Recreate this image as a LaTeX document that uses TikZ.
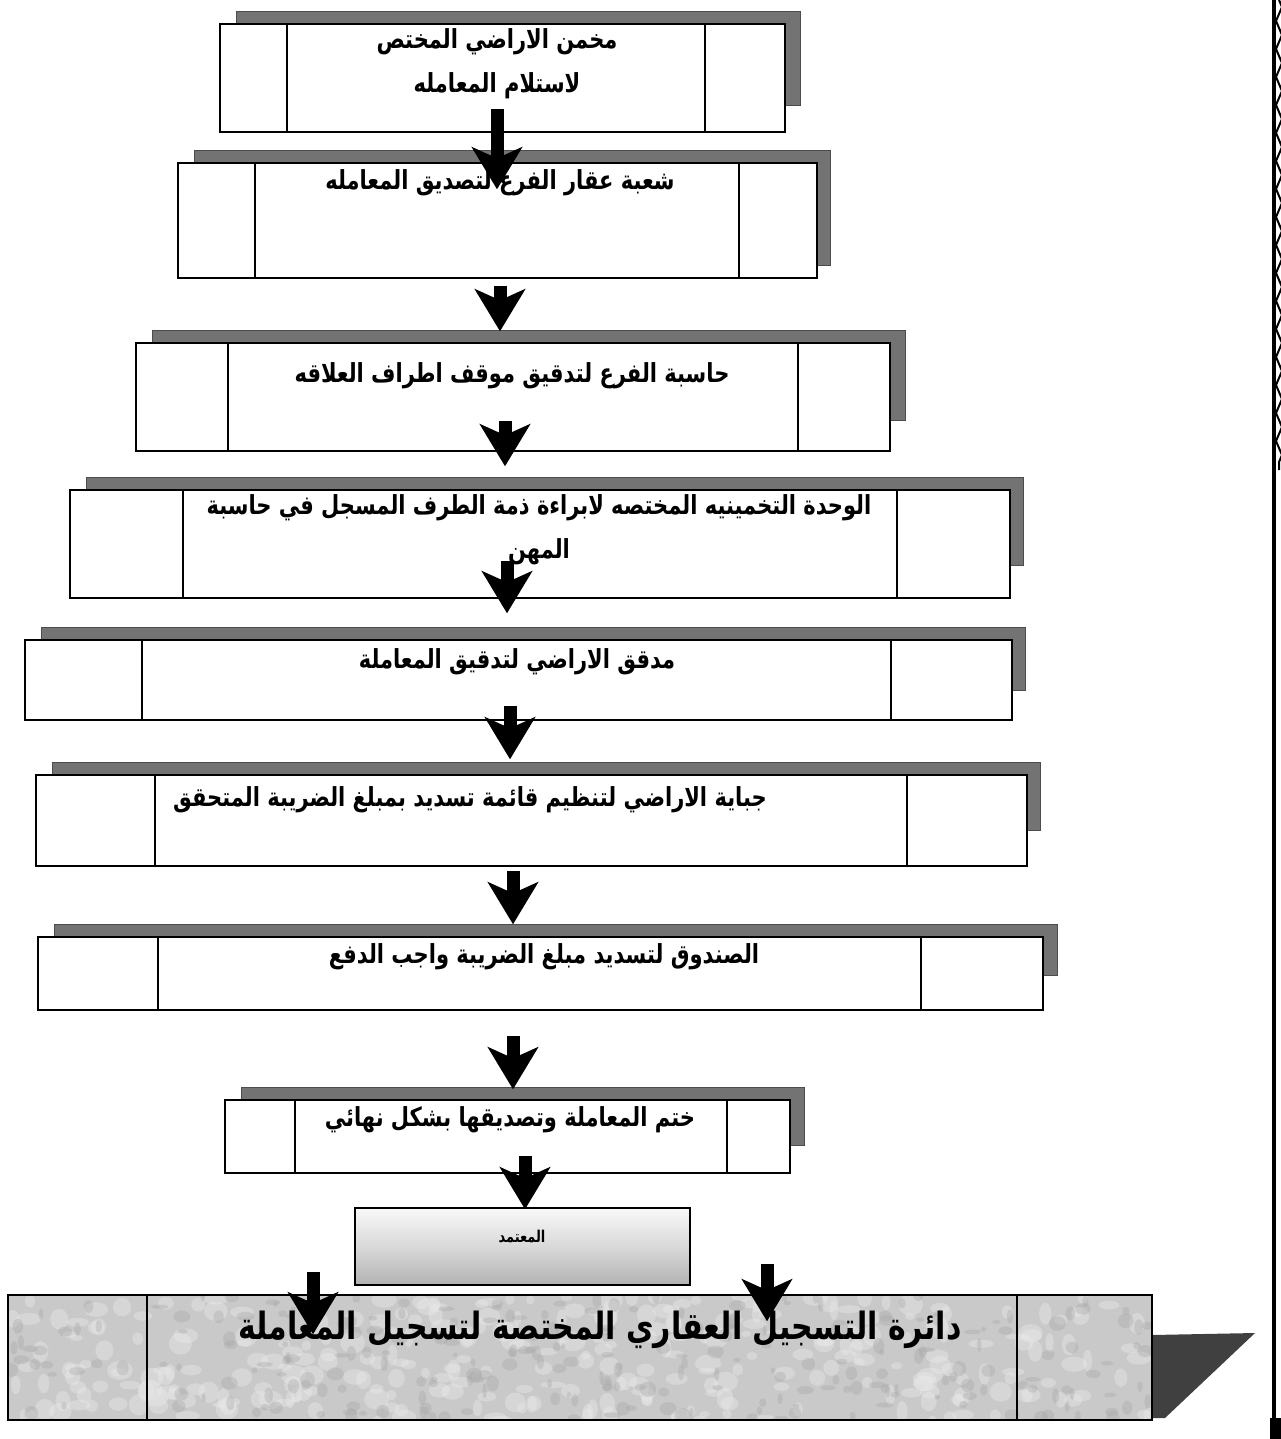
\documentclass[tikz,border=0pt]{standalone}
\usepackage{fontspec}
\usetikzlibrary{arrows.meta,calc,fit,decorations.pathmorphing}
\newfontfamily\arabicfont[Script=Arabic]{DejaVu Sans}
\TeXXeTstate=1
\newcommand\AR[1]{\scalebox{1}[1.25]{\beginR #1\endR}}
\tikzset{
  boxst/.style={draw=black, line width=1.4pt, fill=white, inner sep=0pt},
  divst/.style={draw=black, line width=1.1pt},
  shadowst/.style={fill=black!55, draw=black!70, line width=0.6pt},
  txt/.style={font=\arabicfont\bfseries\fontsize{21}{44}\selectfont, align=center, inner sep=1pt},
  bigarrow/.style={draw=black, line width=13pt, -{Stealth[length=42pt,width=50pt,inset=11pt]}},
}
\newcommand\flowstep[9]{%
  \fill[shadowst] (#2+16,#3-13) rectangle (#8,#9);
  \path (#2,#3) coordinate (#1-a) (#4,#5) coordinate (#1-b);
  \node[boxst, fit=(#1-a)(#1-b)] (#1) {};
  \draw[divst] (#6,#3) -- (#6,#5);
  \draw[divst] (#7,#3) -- (#7,#5);
}
\begin{document}
\begin{tikzpicture}[x=1pt,y=-1pt]
\useasboundingbox (0,0) rectangle (1281,1439);
\fill[white] (0,0) rectangle (1281,1439);

% boxes
\flowstep{b1}{220}{24}{785}{132}{287}{705}{800}{105}
\flowstep{b2}{178}{163}{817}{278}{255}{739}{830}{265}
\flowstep{b3}{136}{343}{890}{451}{228}{798}{905}{420}
\flowstep{b4}{70}{490}{1010}{598}{183}{897}{1023}{565}
\flowstep{b5}{25}{640}{1012}{720}{142}{891}{1025}{690}
\flowstep{b6}{36}{775}{1027}{866}{155}{907}{1040}{830}
\flowstep{b7}{38}{937}{1043}{1010}{158}{921}{1057}{975}
\flowstep{b8}{225}{1100}{790}{1173}{295}{727}{804}{1145}

% approved box with gradient
\path (355,1208) coordinate (b9-a) (690,1285) coordinate (b9-b);
\node[fit=(b9-a)(b9-b), inner sep=0pt, draw=black, line width=1.4pt,
      top color=gray!5, bottom color=gray!60, middle color=gray!30] (b9) {};

% final textured box
\fill[black!75] (1152,1335) -- (1255,1333) -- (1165,1418) -- (1152,1418) -- cycle;
\fill[gray!42] (8,1295) rectangle (1152,1420);
\begin{scope}
  \clip (8,1295) rectangle (1152,1420);
  \pgfmathsetseed{7}
  \foreach \i in {1,...,320}{
    \pgfmathsetmacro\rx{8+rnd*1144}
    \pgfmathsetmacro\ry{1295+rnd*125}
    \pgfmathsetmacro\rw{4+rnd*9}
    \pgfmathsetmacro\rh{3+rnd*8}
    \fill[gray!18, opacity=0.45] (\rx,\ry) ellipse ({\rw pt} and {\rh pt});
  }
  \foreach \i in {1,...,260}{
    \pgfmathsetmacro\rx{8+rnd*1144}
    \pgfmathsetmacro\ry{1295+rnd*125}
    \pgfmathsetmacro\rw{2+rnd*7}
    \pgfmathsetmacro\rh{2+rnd*6}
    \fill[gray!70, opacity=0.35] (\rx,\ry) ellipse ({\rw pt} and {\rh pt});
  }
\end{scope}
\path (8,1295) coordinate (b10-a) (1152,1420) coordinate (b10-b);
\node[fit=(b10-a)(b10-b), inner sep=0pt, draw=black, line width=1.4pt] (b10) {};
\draw[divst] (147,1295) -- (147,1420);
\draw[divst] (1017,1295) -- (1017,1420);

% texts
\node[txt] (t1) at (497,64) {\AR{مخمن الاراضي المختص}\\\AR{لاستلام المعامله}};
\node[txt] (t2) at (500,183) {\AR{شعبة عقار الفرع لتصديق المعامله}};
\node[txt] (t3) at (512,376) {\AR{حاسبة الفرع لتدقيق موقف اطراف العلاقه}};
\node[txt] (t4) at (539,530) {\AR{الوحدة التخمينيه المختصه لابراءة ذمة الطرف المسجل في حاسبة}\\\AR{المهن}};
\node[txt] (t5) at (517,662) {\AR{مدقق الاراضي لتدقيق المعاملة}};
\node[txt] (t6) at (470,800) {\AR{جباية الاراضي لتنظيم قائمة تسديد بمبلغ الضريبة المتحقق}};
\node[txt] (t7) at (544,957) {\AR{الصندوق لتسديد مبلغ الضريبة واجب الدفع}};
\node[txt] (t8) at (510,1120) {\AR{ختم المعاملة وتصديقها بشكل نهائي}};
\node[txt, font=\arabicfont\bfseries\fontsize{13}{16}\selectfont] (t9) at (522,1237) {\AR{المعتمد}};
\node[txt, font=\arabicfont\bfseries\fontsize{30}{36}\selectfont] (t10) at (600,1330) {\AR{دائرة التسجيل العقاري المختصة لتسجيل المعاملة}};

% arrows
\draw[bigarrow] ($(b1.south)+(-5.5,-24)$) -- ($(b2.north)+(-0.5,27)$);
\draw[bigarrow] ($(b2.south)+(2.5,7)$) -- ($(b3.north)+(-13,-11)$);
\draw[bigarrow] ($(b3.south)+(-8,-31)$) -- ($(b4.north)+(-35,-23)$);
\draw[bigarrow] ($(b4.south)+(-33,-38)$) -- ($(b5.north)+(-11.5,-26)$);
\draw[bigarrow] ($(b5.south)+(-8.5,-15)$) -- ($(b6.north)+(-21.5,-15)$);
\draw[bigarrow] ($(b6.south)+(-18.5,4)$) -- ($(b7.north)+(-27.5,-12)$);
\draw[bigarrow] ($(b7.south)+(-27.5,25)$) -- ($(b8.north)+(5.5,-10)$);
\draw[bigarrow] ($(b8.south)+(17.5,-18)$) -- ($(b9.north)+(2.5,2)$);
\draw[bigarrow] ($(b10.north)+(-267,-22)$) -- ($(b10.north)+(-267,40)$);
\draw[bigarrow] ($(b10.north)+(187,-30)$) -- ($(b10.north)+(187,27)$);

% page border on the right
\draw[black, line width=4pt] (1274,0) -- (1274,1420);
\draw[black, line width=2pt, decorate, decoration={zigzag, amplitude=3pt, segment length=28pt}] (1279,0) -- (1279,470);
\fill[black] (1270,1418) rectangle (1281,1439);
\end{tikzpicture}
\end{document}
